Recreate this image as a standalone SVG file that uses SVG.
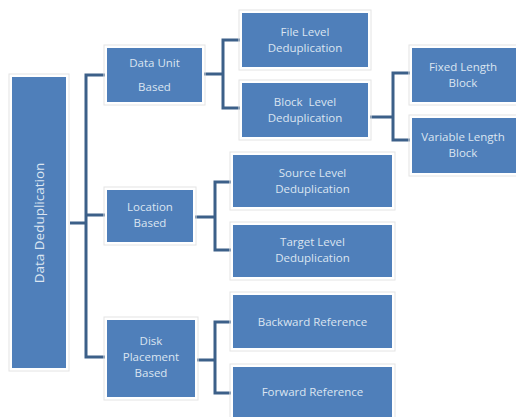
<svg xmlns="http://www.w3.org/2000/svg" width="516" height="417" viewBox="0 0 516 417">
<defs>
<style>
.box{fill:#4f7fba;stroke:#ffffff;stroke-width:2}
.frame{fill:none;stroke:#e4e4e4;stroke-width:1}
.t{font-family:"Open Sans","Liberation Sans",sans-serif;font-size:11.5px;fill:#dbe5f1;text-anchor:middle}
.r{font-size:13.5px}
.c{fill:none;stroke:#3c6089;stroke-width:3;stroke-linejoin:miter}
</style>
</defs>
<rect width="516" height="417" fill="#ffffff"/>
<g id="connectors">
<path class="c" d="M70 223H86M105 75H86V357H105M86 215H105"/>
<path class="c" d="M202 74H223M243 40H223V108H243"/>
<path class="c" d="M368 117H393M412 73H393V140H412"/>
<path class="c" d="M193 217H215M233 182H215V250H233"/>
<path class="c" d="M195 360H215M233 322H215V393H233"/>
</g>
<g id="root">
<rect class="frame" x="9" y="74" width="60" height="297"/>
<rect class="box" x="11" y="76" width="56" height="293"/>
<text class="t r" transform="translate(44 223) rotate(-90)">Data Deduplication</text>
</g>
<g id="dataunit">
<rect class="frame" x="104" y="45" width="101" height="60"/>
<rect class="box" x="106" y="47" width="97" height="56"/>
<text class="t" x="154.5" y="67">Data Unit</text>
<text class="t" x="154.5" y="91">Based</text>
</g>
<g id="filelevel">
<rect class="frame" x="239" y="10" width="132" height="60"/>
<rect class="box" x="241" y="12" width="128" height="56"/>
<text class="t" x="305" y="36">File Level</text>
<text class="t" x="305" y="52">Deduplication</text>
</g>
<g id="blocklevel">
<rect class="frame" x="239" y="80" width="132" height="60"/>
<rect class="box" x="241" y="82" width="128" height="56"/>
<text class="t" x="305" y="106" xml:space="preserve">Block  Level</text>
<text class="t" x="305" y="122">Deduplication</text>
</g>
<g id="fixed">
<rect class="frame" x="409" y="45" width="110" height="60"/>
<rect class="box" x="411" y="47" width="106" height="56"/>
<text class="t" x="463" y="71">Fixed Length</text>
<text class="t" x="463" y="87">Block</text>
</g>
<g id="variable">
<rect class="frame" x="409" y="115" width="110" height="61"/>
<rect class="box" x="411" y="117" width="106" height="57"/>
<text class="t" x="463" y="141">Variable Length</text>
<text class="t" x="463" y="157">Block</text>
</g>
<g id="location">
<rect class="frame" x="104" y="187" width="92" height="58"/>
<rect class="box" x="106" y="189" width="88" height="54"/>
<text class="t" x="150" y="211">Location</text>
<text class="t" x="150" y="227">Based</text>
</g>
<g id="source">
<rect class="frame" x="230" y="152" width="165" height="58"/>
<rect class="box" x="232" y="154" width="161" height="54"/>
<text class="t" x="312.5" y="177">Source Level</text>
<text class="t" x="312.5" y="193">Deduplication</text>
</g>
<g id="target">
<rect class="frame" x="230" y="222" width="165" height="58"/>
<rect class="box" x="232" y="224" width="161" height="54"/>
<text class="t" x="312.5" y="246">Target Level</text>
<text class="t" x="312.5" y="262">Deduplication</text>
</g>
<g id="disk">
<rect class="frame" x="104" y="317" width="94" height="83"/>
<rect class="box" x="106" y="319" width="90" height="79"/>
<text class="t" x="151" y="345">Disk</text>
<text class="t" x="151" y="361">Placement</text>
<text class="t" x="151" y="377">Based</text>
</g>
<g id="backward">
<rect class="frame" x="230" y="292" width="165" height="59"/>
<rect class="box" x="232" y="294" width="161" height="55"/>
<text class="t" x="312.5" y="326">Backward Reference</text>
</g>
<g id="forward">
<rect class="frame" x="230" y="364" width="165" height="60"/>
<rect class="box" x="232" y="366" width="161" height="56"/>
<text class="t" x="312.5" y="396">Forward Reference</text>
</g>
</svg>
